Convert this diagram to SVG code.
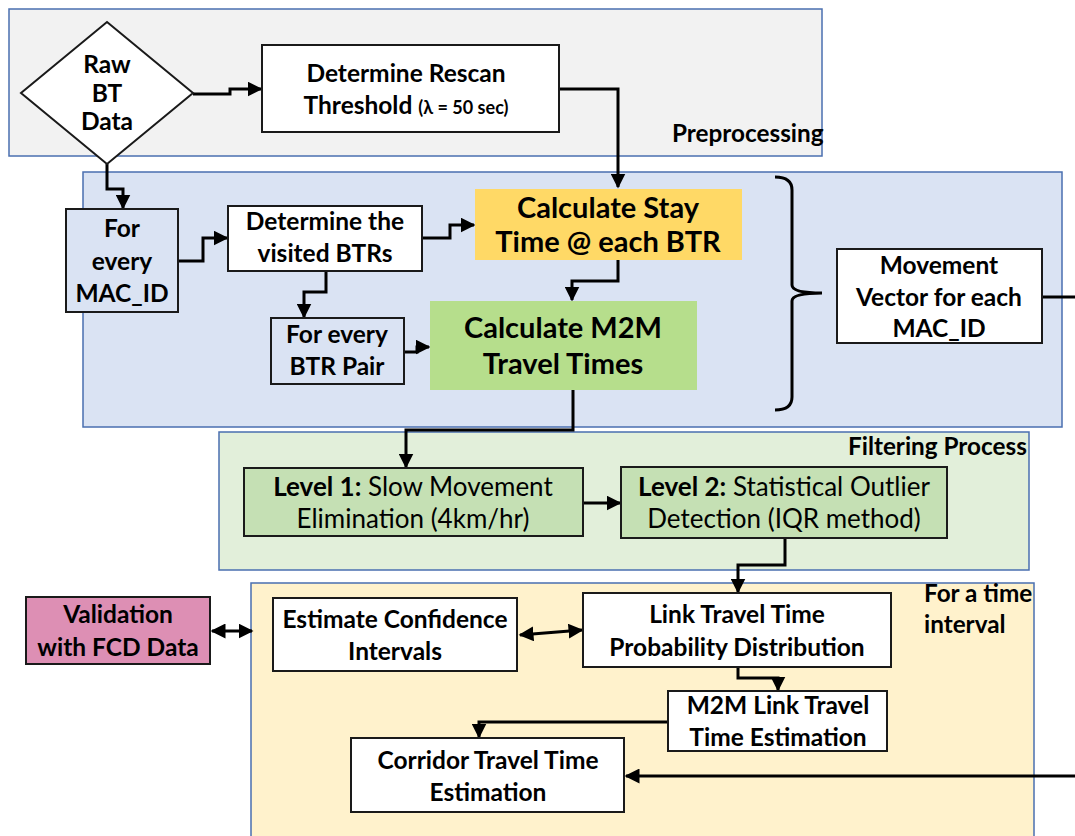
<svg xmlns="http://www.w3.org/2000/svg" width="1075" height="836" viewBox="0 0 1075 836">
<defs>
<marker id="ah" viewBox="0 0 10 10" refX="9" refY="5" markerWidth="5" markerHeight="5" orient="auto-start-reverse"><path d="M0,0 L10,5 L0,10 z" fill="#000"/></marker>
<style>
.region{stroke:#4a6fb0;stroke-width:1.5}
.node{stroke:#1a1a1a;stroke-width:2}
.t{font-family:Lato,"Open Sans","Liberation Sans",sans-serif;font-weight:bold;font-size:24.5px;fill:#000;text-anchor:middle}
.big{font-size:29px}
.reg{font-weight:normal;font-size:26px}
.lbl{font-family:Lato,"Open Sans","Liberation Sans",sans-serif;font-weight:bold;font-size:24.3px;fill:#000}
.c{fill:none;stroke:#000;stroke-width:3}
.ca{fill:none;stroke:#000;stroke-width:3;marker-end:url(#ah)}
</style>
</defs>
<g id="regions">
<rect id="preprocessing" class="region" x="9" y="9" width="813" height="147" fill="#f2f2f2"/>
<rect id="movement-region" class="region" x="83" y="172" width="979" height="255" fill="#dae3f3"/>
<rect id="filtering" class="region" x="219" y="432" width="810" height="138" fill="#e2efda"/>
<rect id="time-interval" class="region" x="251" y="583" width="783" height="260" fill="#fff2cc"/>
<text class="lbl" x="672" y="142">Preprocessing</text>
<text class="lbl" x="848" y="455">Filtering Process</text>
<text class="lbl" x="924" y="602">For a time</text>
<text class="lbl" x="924" y="633">interval</text>
</g>
<g id="connectors">
<polyline class="ca" points="193,94 230,94 230,89 261,89"/>
<polyline class="ca" points="559,89 618,89 618,187"/>
<polyline class="ca" points="107,164 107,189 123,189 123,208"/>
<polyline class="ca" points="178,261 203,261 203,238 227,238"/>
<polyline class="ca" points="422,238 450,238 450,225 474,225"/>
<polyline class="ca" points="326,271 326,292 304,292 304,317"/>
<polyline class="ca" points="404,352 417,352 417,347 429,347"/>
<polyline class="ca" points="618,260 618,281 572,281 572,300"/>
<path class="c" d="M775,177 Q792,177 792,190 L792,285 Q792,293 822,293 Q792,293 792,301 L792,397 Q792,410 775,410"/>
<line class="c" x1="1042" y1="297" x2="1075" y2="297"/>
<polyline class="ca" points="573,390 573,430 406,430 406,467"/>
<line class="ca" x1="583" y1="503" x2="620" y2="503"/>
<polyline class="ca" points="785,538 785,565 738,565 738,592"/>
<line class="ca" x1="520" y1="635" x2="582" y2="630" style="marker-start:url(#ah)"/>
<line class="ca" x1="212" y1="631" x2="252" y2="631" style="marker-start:url(#ah)"/>
<polyline class="ca" points="738,667 738,678 778,678 778,690"/>
<polyline class="ca" points="668,722 479,722 479,737"/>
<line class="ca" x1="1075" y1="776" x2="626" y2="776"/>
</g>
<g id="raw-bt-data">
<polygon class="node" points="107,22 193,93 107,164 21,93" fill="#fff" stroke-width="1.5"/>
<text class="t" x="107" y="73" font-size="22">Raw</text>
<text class="t" x="107" y="102" font-size="22">BT</text>
<text class="t" x="107" y="130" font-size="22">Data</text>
</g>
<g id="rescan">
<rect class="node" x="262" y="45" width="297" height="87" fill="#fff"/>
<text class="t" x="406" y="82">Determine Rescan</text>
<text class="t" x="406" y="114">Threshold <tspan font-size="18">(λ = 50 sec)</tspan></text>
</g>
<g id="mac-id">
<rect class="node" x="66" y="209" width="112" height="103" fill="#dae3f3"/>
<text class="t" x="122" y="237">For</text>
<text class="t" x="122" y="270">every</text>
<text class="t" x="122" y="302">MAC_ID</text>
</g>
<g id="visited">
<rect class="node" x="228" y="206" width="194" height="65" fill="#fff"/>
<text class="t" x="325" y="230">Determine the</text>
<text class="t" x="325" y="262">visited BTRs</text>
</g>
<g id="btr-pair">
<rect class="node" x="271" y="318" width="133" height="66" fill="#dae3f3"/>
<text class="t" x="337" y="343">For every</text>
<text class="t" x="337" y="375">BTR Pair</text>
</g>
<g id="stay">
<rect x="475" y="189" width="267" height="71" fill="#ffd966"/>
<text class="t big" x="608" y="218">Calculate Stay</text>
<text class="t big" x="608" y="252">Time @ each BTR</text>
</g>
<g id="m2m">
<rect x="430" y="301" width="267" height="89" fill="#b6de8c"/>
<text class="t big" x="563" y="338">Calculate M2M</text>
<text class="t big" x="563" y="374">Travel Times</text>
</g>
<g id="movement-vector">
<rect class="node" x="837" y="249" width="205" height="94" fill="#fff"/>
<text class="t" x="939" y="274">Movement</text>
<text class="t" x="939" y="306">Vector for each</text>
<text class="t" x="939" y="337">MAC_ID</text>
</g>
<g id="level1">
<rect class="node" x="244" y="468" width="339" height="68" fill="#c5e0b4"/>
<text class="t reg" x="413" y="496"><tspan font-weight="bold">Level 1:</tspan> Slow Movement</text>
<text class="t reg" x="413" y="528">Elimination (4km/hr)</text>
</g>
<g id="level2">
<rect class="node" x="621" y="467" width="326" height="71" fill="#c5e0b4"/>
<text class="t reg" x="784" y="496"><tspan font-weight="bold">Level 2:</tspan> Statistical Outlier</text>
<text class="t reg" x="784" y="528">Detection (IQR method)</text>
</g>
<g id="validation">
<rect class="node" x="26" y="597" width="184" height="67" fill="#dd8fb4"/>
<text class="t" x="118" y="623" font-size="23">Validation</text>
<text class="t" x="118" y="656" font-size="23">with FCD Data</text>
</g>
<g id="confidence">
<rect class="node" x="273" y="598" width="244" height="73" fill="#fff"/>
<text class="t" x="395" y="628" font-size="24">Estimate Confidence</text>
<text class="t" x="395" y="660" font-size="24">Intervals</text>
</g>
<g id="link-dist">
<rect class="node" x="583" y="593" width="308" height="74" fill="#fff"/>
<text class="t" x="737" y="623">Link Travel Time</text>
<text class="t" x="737" y="656">Probability Distribution</text>
</g>
<g id="m2m-link">
<rect class="node" x="668" y="691" width="219" height="60" fill="#fff"/>
<text class="t" x="778" y="714">M2M Link Travel</text>
<text class="t" x="778" y="746">Time Estimation</text>
</g>
<g id="corridor">
<rect class="node" x="351" y="738" width="273" height="74" fill="#fff"/>
<text class="t" x="488" y="769" font-size="26">Corridor Travel Time</text>
<text class="t" x="488" y="801" font-size="26">Estimation</text>
</g>
</svg>
